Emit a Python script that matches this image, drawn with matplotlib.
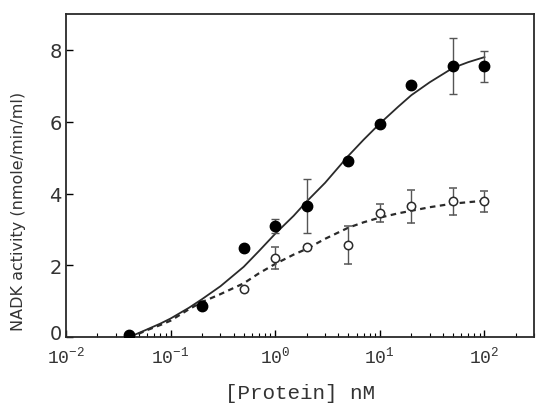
import numpy as np
import matplotlib
matplotlib.use('Agg')
import matplotlib.pyplot as plt
import matplotlib.transforms as mtransforms
from matplotlib.ticker import LogLocator, FixedLocator, NullFormatter

# Protein concentration (nM)
protein_nm = [0.04, 0.2, 0.5, 1, 2, 5, 10, 20, 50, 100]

# Filled circles
filled_act = [0.07, 0.87, 2.49, 3.1, 3.66, 4.92, 5.93, 7.02, 7.55, 7.55]
filled_err = [0, 0, 0, 0.2, 0.75, 0, 0, 0, 0.78, 0.43]

# Open circles
open_act = [0.05, 0.9, 1.34, 2.2, 2.52, 2.57, 3.47, 3.64, 3.78, 3.78]
open_err = [0, 0, 0, 0.3, 0, 0.53, 0.25, 0.46, 0.38, 0.29]

# Fitted curves
curve_x = [0.04, 0.05, 0.06, 0.08, 0.1, 0.15, 0.2, 0.3, 0.5, 0.7, 1, 1.5, 2, 3, 5, 7, 10, 15, 20, 30, 50, 70, 100]
solid_y = [0.0, 0.12, 0.22, 0.38, 0.52, 0.82, 1.06, 1.42, 1.96, 2.4, 2.88, 3.38, 3.78, 4.3, 5.05, 5.5, 5.95, 6.42, 6.74, 7.1, 7.5, 7.66, 7.8]
dashed_y = [0.0, 0.1, 0.2, 0.34, 0.46, 0.78, 0.98, 1.2, 1.5, 1.78, 2.04, 2.3, 2.46, 2.74, 3.05, 3.2, 3.33, 3.45, 3.52, 3.62, 3.72, 3.76, 3.8]

yticks = [0, 2, 4, 6, 8]
xticks = [1e-2, 1e-1, 1e0, 1e1, 1e2]
xticklabels = [r'$10^{-2}$', r'$10^{-1}$', r'$10^{0}$', r'$10^{1}$', r'$10^{2}$']

plt.rcParams['mathtext.default'] = 'regular'
ink = '#2a2a2a'

fig = plt.figure(figsize=(5.36, 4.06), dpi=100)
ax = fig.add_axes([0.123, 0.167, 0.874, 0.796])

ax.plot(curve_x, solid_y, color=ink, lw=1.3, zorder=2)
ax.plot(curve_x, dashed_y, color=ink, lw=1.6, ls=(0, (2.5, 2)), zorder=2)

ax.errorbar(protein_nm, open_act, yerr=open_err, fmt='o', ms=6, mfc='white',
            mec=ink, mew=1.1, ecolor='#555555', elinewidth=1, capsize=3, zorder=3)
ax.errorbar(protein_nm, filled_act, yerr=filled_err, fmt='o', ms=7.5, mfc='black',
            mec='black', ecolor='#555555', elinewidth=1, capsize=3, zorder=4)

ax.set_xscale('log')
ax.set_xlim(0.01, 300)
ax.set_ylim(0, 9)

ax.xaxis.set_major_locator(FixedLocator(xticks))
ax.set_xticklabels(xticklabels, family='Liberation Mono', fontsize=13, color='#333333')
ax.xaxis.set_minor_locator(LogLocator(base=10, subs=np.arange(2, 10)))
ax.xaxis.set_minor_formatter(NullFormatter())
ax.set_yticks(yticks)
ax.set_yticklabels([str(v) for v in yticks], family='DejaVu Sans', fontsize=14, color='#333333')

ax.tick_params(axis='x', which='major', direction='in', length=5, width=1, pad=6)
ax.tick_params(axis='x', which='minor', direction='in', length=3, width=0.8)
ax.tick_params(axis='y', which='major', direction='in', length=5, width=1, pad=3)
for s in ax.spines.values():
    s.set_linewidth(1.3)
    s.set_color(ink)

# nudge the "0" up a little so it sits just above the 10^-2 label
zero_lbl = ax.get_yticklabels()[0]
zero_lbl.set_transform(zero_lbl.get_transform() +
                       mtransforms.ScaledTranslation(0, 4 / 72, fig.dpi_scale_trans))

ax.set_xlabel('[Protein] nM', family='Liberation Mono', fontsize=15, color='#333333', labelpad=12)
fig.text(0.034, 0.478, 'NADK activity (nmole/min/ml)', rotation=90, ha='center', va='center',
         family='DejaVu Sans', fontsize=11.5, color='#333333')

fig.savefig('out.png', dpi=100)
